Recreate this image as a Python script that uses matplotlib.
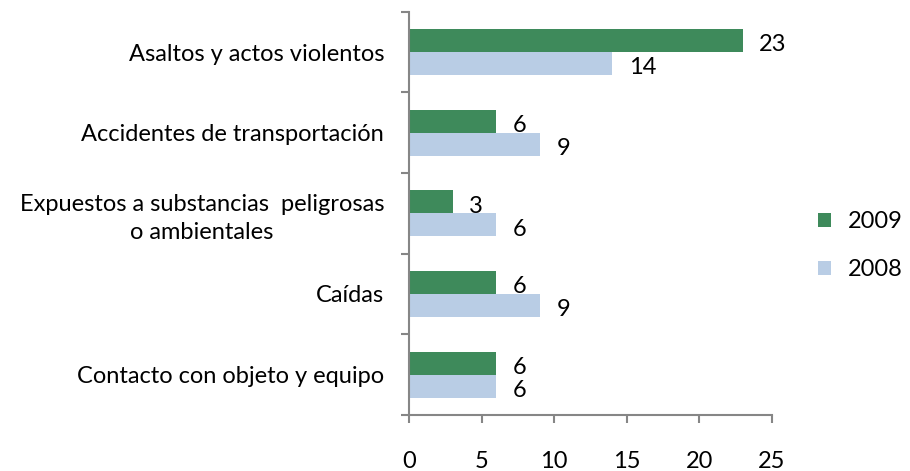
import numpy as np
import matplotlib.pyplot as plt

plt.rcParams['font.family'] = ['Lato', 'DejaVu Sans']

# datos
categorias = ['Asaltos y actos violentos',
              'Accidentes de transportación',
              'Expuestos a substancias  peligrosas\no ambientales',
              'Caídas',
              'Contacto con objeto y equipo']
valores_2009 = [23, 6, 3, 6, 6]
valores_2008 = [14, 9, 6, 9, 6]

color_2009 = '#3E8A5B'
color_2008 = '#B9CDE5'

fs = 17

fig = plt.figure(figsize=(9.1, 4.71), dpi=100)
ax = fig.add_axes([0.4495, 0.119, 0.3985, 0.856])

y = np.arange(len(categorias))
h = 0.285
b1 = ax.barh(y - h / 2, valores_2009, height=h, color=color_2009, label='2009')
b2 = ax.barh(y + h / 2, valores_2008, height=h, color=color_2008, label='2008')

for barras in (b1, b2):
    for r in barras:
        v = r.get_width()
        ax.annotate(str(int(v)), (v, r.get_y() + r.get_height() / 2),
                    xytext=(12, -3), textcoords='offset points',
                    ha='left', va='center', fontsize=fs)

ax.set_xlim(0, 25)
ax.set_ylim(len(categorias) - 0.5, -0.5)
ax.set_xticks([0, 5, 10, 15, 20, 25])
ax.set_yticks(y)
ax.set_yticklabels(categorias, multialignment='center', linespacing=1.4)
ax.set_yticks(np.arange(len(categorias) + 1) - 0.5, minor=True)

for s in ('top', 'right'):
    ax.spines[s].set_visible(False)
for s in ('left', 'bottom'):
    ax.spines[s].set_color('#868686')
    ax.spines[s].set_linewidth(1.5)

ax.tick_params(axis='y', which='major', length=0, pad=18, labelsize=fs)
ax.tick_params(axis='y', which='minor', length=6, width=1.5, color='#868686')
ax.tick_params(axis='x', length=6, width=1.5, color='#868686', pad=20, labelsize=fs)

ax.legend(loc='center left', bbox_to_anchor=(1.095, 0.42), frameon=False,
          fontsize=fs, handlelength=0.55, handleheight=0.55, labelspacing=1.15,
          handletextpad=0.7, borderpad=0)

fig.savefig('out.png', dpi=100)
